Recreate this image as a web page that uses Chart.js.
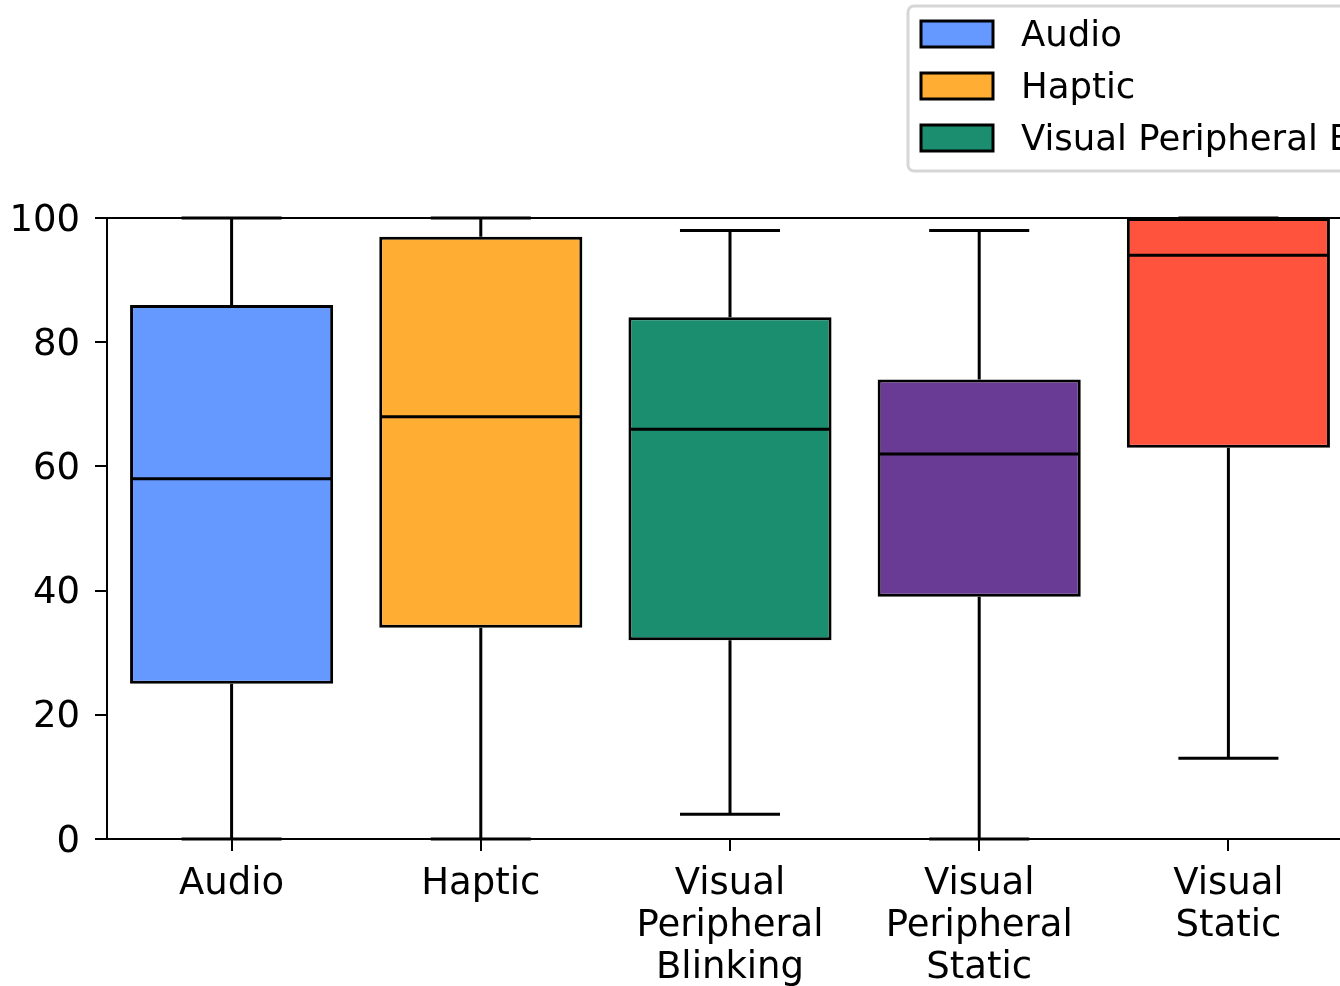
<!DOCTYPE html>
<html>
<head>
<meta charset="utf-8">
<script src="https://cdn.jsdelivr.net/npm/chart.js@4/dist/chart.umd.min.js"></script>
<style>
  html, body { margin: 0; padding: 0; background: #fff; overflow: hidden; }
  #wrap { width: 1340px; height: 986px; overflow: hidden; }
  canvas { display: block; }
</style>
</head>
<body>
<div id="wrap"><canvas id="c" width="1360" height="986"></canvas></div>
<script>
// Response scores per feedback modality (box plot summary)
const categories = ['Audio', 'Haptic', 'Visual Peripheral Blinking', 'Visual Peripheral Static', 'Visual Static'];
const tickLabels = [['Audio'], ['Haptic'], ['Visual', 'Peripheral', 'Blinking'], ['Visual', 'Peripheral', 'Static'], ['Visual', 'Static']];
const mins    = [0, 0, 4, 0, 13];
const q1s     = [25, 34, 32, 39, 63];
const medians = [58, 68, 66, 62, 94];
const q3s     = [86, 97, 84, 74, 100];
const maxs    = [100, 100, 98, 98, 100];
const colors  = ['#6699FF', '#FFAD33', '#1C8E70', '#6A3B94', '#FF533D'];
const yTicks  = [0, 20, 40, 60, 80, 100];

const FONT = 'DejaVu Sans';

// Whiskers, caps, medians and the top spine
const boxParts = {
  id: 'boxParts',
  afterDatasetsDraw(chart) {
    const ctx = chart.ctx;
    const xs = chart.scales.x, ys = chart.scales.y;
    const meta = chart.getDatasetMeta(0);
    const area = chart.chartArea;
    ctx.save();
    ctx.strokeStyle = '#000';
    ctx.lineCap = 'butt';
    // top spine
    ctx.lineWidth = 2;
    ctx.beginPath();
    ctx.moveTo(area.left - 1, area.top);
    ctx.lineTo(area.right + 1, area.top);
    ctx.stroke();
    ctx.lineWidth = 3;
    categories.forEach((c, i) => {
      const x = xs.getPixelForValue(i);
      const w = meta.data[i].width - 3;
      const yMin = ys.getPixelForValue(mins[i]);
      const yQ1 = ys.getPixelForValue(q1s[i]);
      const yMed = ys.getPixelForValue(medians[i]);
      const yQ3 = ys.getPixelForValue(q3s[i]);
      const yMax = ys.getPixelForValue(maxs[i]);
      ctx.beginPath();
      ctx.moveTo(x, yQ1); ctx.lineTo(x, yMin);
      ctx.moveTo(x, yQ3); ctx.lineTo(x, yMax);
      ctx.moveTo(x - w / 4, yMin); ctx.lineTo(x + w / 4, yMin);
      ctx.moveTo(x - w / 4, yMax); ctx.lineTo(x + w / 4, yMax);
      ctx.moveTo(x - w / 2, yMed); ctx.lineTo(x + w / 2, yMed);
      ctx.stroke();
    });
    ctx.restore();
  }
};

// Two-column legend in the upper right
const boxLegend = {
  id: 'boxLegend',
  afterDraw(chart) {
    const ctx = chart.ctx;
    ctx.save();
    const fx = 908, fy = 6, fw = 700, fh = 165, r = 6;
    ctx.fillStyle = 'rgba(255,255,255,0.8)';
    ctx.strokeStyle = '#d6d6d6';
    ctx.lineWidth = 3;
    ctx.beginPath();
    ctx.moveTo(fx + r, fy);
    ctx.lineTo(fx + fw - r, fy);
    ctx.arcTo(fx + fw, fy, fx + fw, fy + r, r);
    ctx.lineTo(fx + fw, fy + fh - r);
    ctx.arcTo(fx + fw, fy + fh, fx + fw - r, fy + fh, r);
    ctx.lineTo(fx + r, fy + fh);
    ctx.arcTo(fx, fy + fh, fx, fy + fh - r, r);
    ctx.lineTo(fx, fy + r);
    ctx.arcTo(fx, fy, fx + r, fy, r);
    ctx.closePath();
    ctx.fill();
    ctx.stroke();

    ctx.font = '35.5px "' + FONT + '"';
    ctx.textBaseline = 'middle';
    ctx.textAlign = 'left';
    const rows = 3;
    const colW = 100 + ctx.measureText(categories[2]).width + 40;
    categories.forEach((name, i) => {
      const col = Math.floor(i / rows), row = i % rows;
      const px = 921 + col * colW;
      const cy = 34 + row * 52;
      ctx.fillStyle = colors[i];
      ctx.fillRect(px, cy - 13, 72, 26);
      ctx.strokeStyle = '#000';
      ctx.lineWidth = 3;
      ctx.strokeRect(px, cy - 13, 72, 26);
      ctx.fillStyle = '#000';
      ctx.fillText(name, px + 100, cy + 3);
    });
    ctx.restore();
  }
};

new Chart(document.getElementById('c'), {
  type: 'bar',
  data: {
    labels: categories,
    datasets: [{
      label: 'Score',
      data: q1s.map((q, i) => [q, q3s[i]]),
      backgroundColor: colors,
      borderColor: '#000',
      borderWidth: 3,
      borderSkipped: false,
      barPercentage: 0.815,
      categoryPercentage: 1.0,
      clip: false
    }]
  },
  options: {
    responsive: false,
    animation: false,
    layout: { padding: { top: 218, right: 7, left: 0, bottom: 0 } },
    plugins: {
      legend: { display: false },
      tooltip: { enabled: false }
    },
    scales: {
      x: {
        offset: true,
        grid: { display: true, drawOnChartArea: false, drawTicks: true, tickLength: 12, color: '#000', lineWidth: 2, offset: false },
        border: { display: true, color: '#000', width: 2 },
        ticks: {
          color: '#000',
          font: { family: FONT, size: 37, lineHeight: 1.135 },
          padding: 12,
          maxRotation: 0,
          autoSkip: false,
          callback: (v, i) => tickLabels[i]
        },
        afterFit: s => { s.height = 147; }
      },
      y: {
        min: 0,
        max: 100,
        afterBuildTicks: s => { s.ticks = yTicks.map(v => ({ value: v })); },
        grid: { display: true, drawOnChartArea: false, drawTicks: true, tickLength: 12, color: '#000', lineWidth: 2 },
        border: { display: true, color: '#000', width: 2 },
        ticks: {
          color: '#000',
          font: { family: FONT, size: 37 },
          padding: 15,
          labelOffset: 3
        },
        afterFit: s => { s.width = 107; }
      }
    }
  },
  plugins: [boxParts, boxLegend]
});
</script>
</body>
</html>
